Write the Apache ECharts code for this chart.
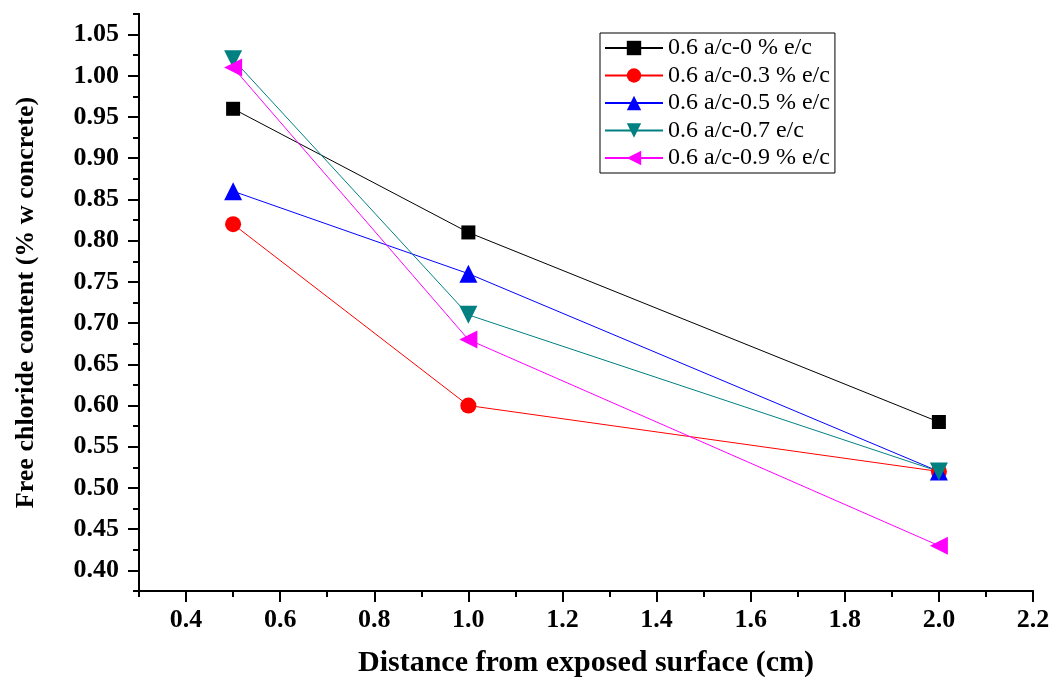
<!DOCTYPE html>
<html><head><meta charset="utf-8">
<script src="https://cdn.jsdelivr.net/npm/echarts@6/dist/echarts.min.js"></script>
<style>html,body{margin:0;padding:0;background:#fff}#c{width:1054px;height:677px}</style>
</head><body><div id="c"></div>
<script>
const xValues = [0.5, 1.0, 2.0];
const seriesNames = ['0.6 a/c-0 % e/c', '0.6 a/c-0.3 % e/c', '0.6 a/c-0.5 % e/c', '0.6 a/c-0.7 e/c', '0.6 a/c-0.9 % e/c'];
const s0 = [0.96, 0.81, 0.58];
const s03 = [0.82, 0.60, 0.52];
const s05 = [0.86, 0.76, 0.52];
const s07 = [1.02, 0.71, 0.52];
const s09 = [1.01, 0.68, 0.43];
const xMajor = [0.4, 0.6, 0.8, 1.0, 1.2, 1.4, 1.6, 1.8, 2.0, 2.2];
const xMinor = [0.3, 0.5, 0.7, 0.9, 1.1, 1.3, 1.5, 1.7, 1.9, 2.1];
const yMajor = [0.40, 0.45, 0.50, 0.55, 0.60, 0.65, 0.70, 0.75, 0.80, 0.85, 0.90, 0.95, 1.00, 1.05];
const yMinor = [0.375, 0.425, 0.475, 0.525, 0.575, 0.625, 0.675, 0.725, 0.775, 0.825, 0.875, 0.925, 0.975, 1.025, 1.075];

const colors = ['#000000', '#ff0000', '#0000ff', '#008080', '#ff00ff'];
const symbols = ['rect', 'circle', 'triangle', 'triangle', 'triangle'];
const rotates = [0, 0, 0, 180, 90];
const sizes = [14, 16, 18, 18, 18];
const allData = [s0, s03, s05, s07, s09];

const chart = echarts.init(document.getElementById('c'));
const font = 'Liberation Serif';
const axisCommon = {
  axisLine: { show: true, lineStyle: { color: '#000', width: 2 } },
  splitLine: { show: false }
};
const option = {
  animation: false,
  grid: { left: 139, top: 14, right: 21, bottom: 86, containLabel: false, outerBoundsMode: 'none' },
  legend: {
    orient: 'vertical',
    left: 600, top: 33,
    padding: [3, 5, 3, 4],
    itemGap: 3.5,
    itemWidth: 58, itemHeight: 18,
    borderColor: '#000', borderWidth: 1,
    backgroundColor: '#fff',
    textStyle: { fontFamily: font, fontSize: 24, color: '#000', padding: [0, 0, 0, 0] },
    data: seriesNames
  },
  xAxis: [
    Object.assign({}, axisCommon, {
      type: 'value', min: 0.3, max: 2.2,
      name: 'Distance from exposed surface (cm)', nameLocation: 'middle', nameGap: 57,
      nameTextStyle: { fontFamily: font, fontSize: 30, fontWeight: 'bold', color: '#000' },
      axisTick: { show: true, inside: false, length: 11, lineStyle: { color: '#000', width: 2 }, customValues: xMajor },
      axisLabel: { show: true, margin: 16, customValues: xMajor, fontFamily: font, fontSize: 26, fontWeight: 'bold', color: '#000',
        formatter: v => v.toFixed(1) }
    }),
    Object.assign({}, axisCommon, {
      type: 'value', min: 0.3, max: 2.2, position: 'bottom',
      axisTick: { show: true, inside: false, length: 6, lineStyle: { color: '#000', width: 2 }, customValues: xMinor },
      axisLabel: { show: false }
    })
  ],
  yAxis: [
    Object.assign({}, axisCommon, {
      type: 'value', min: 0.375, max: 1.075,
      name: 'Free chloride content (% w concrete)', nameLocation: 'middle', nameGap: 100,
      nameTextStyle: { fontFamily: font, fontSize: 26, fontWeight: 'bold', color: '#000' },
      axisTick: { show: true, inside: false, length: 11, lineStyle: { color: '#000', width: 2 }, customValues: yMajor },
      axisLabel: { show: true, margin: 20, customValues: yMajor, fontFamily: font, fontSize: 26, fontWeight: 'bold', color: '#000',
        formatter: v => v.toFixed(2) }
    }),
    Object.assign({}, axisCommon, {
      type: 'value', min: 0.375, max: 1.075, position: 'left',
      axisTick: { show: true, inside: false, length: 6, lineStyle: { color: '#000', width: 2 }, customValues: yMinor },
      axisLabel: { show: false }
    })
  ],
  series: seriesNames.map((name, i) => ({
    name: name,
    type: 'line',
    xAxisIndex: 0, yAxisIndex: 0,
    data: xValues.map((x, j) => [x, allData[i][j]]),
    symbol: symbols[i],
    symbolRotate: rotates[i],
    symbolSize: sizes[i],
    showAllSymbol: true,
    lineStyle: { color: colors[i], width: 1 },
    itemStyle: { color: colors[i] },
    emphasis: { disabled: true }
  }))
};
chart.setOption(option);
</script></body></html>
